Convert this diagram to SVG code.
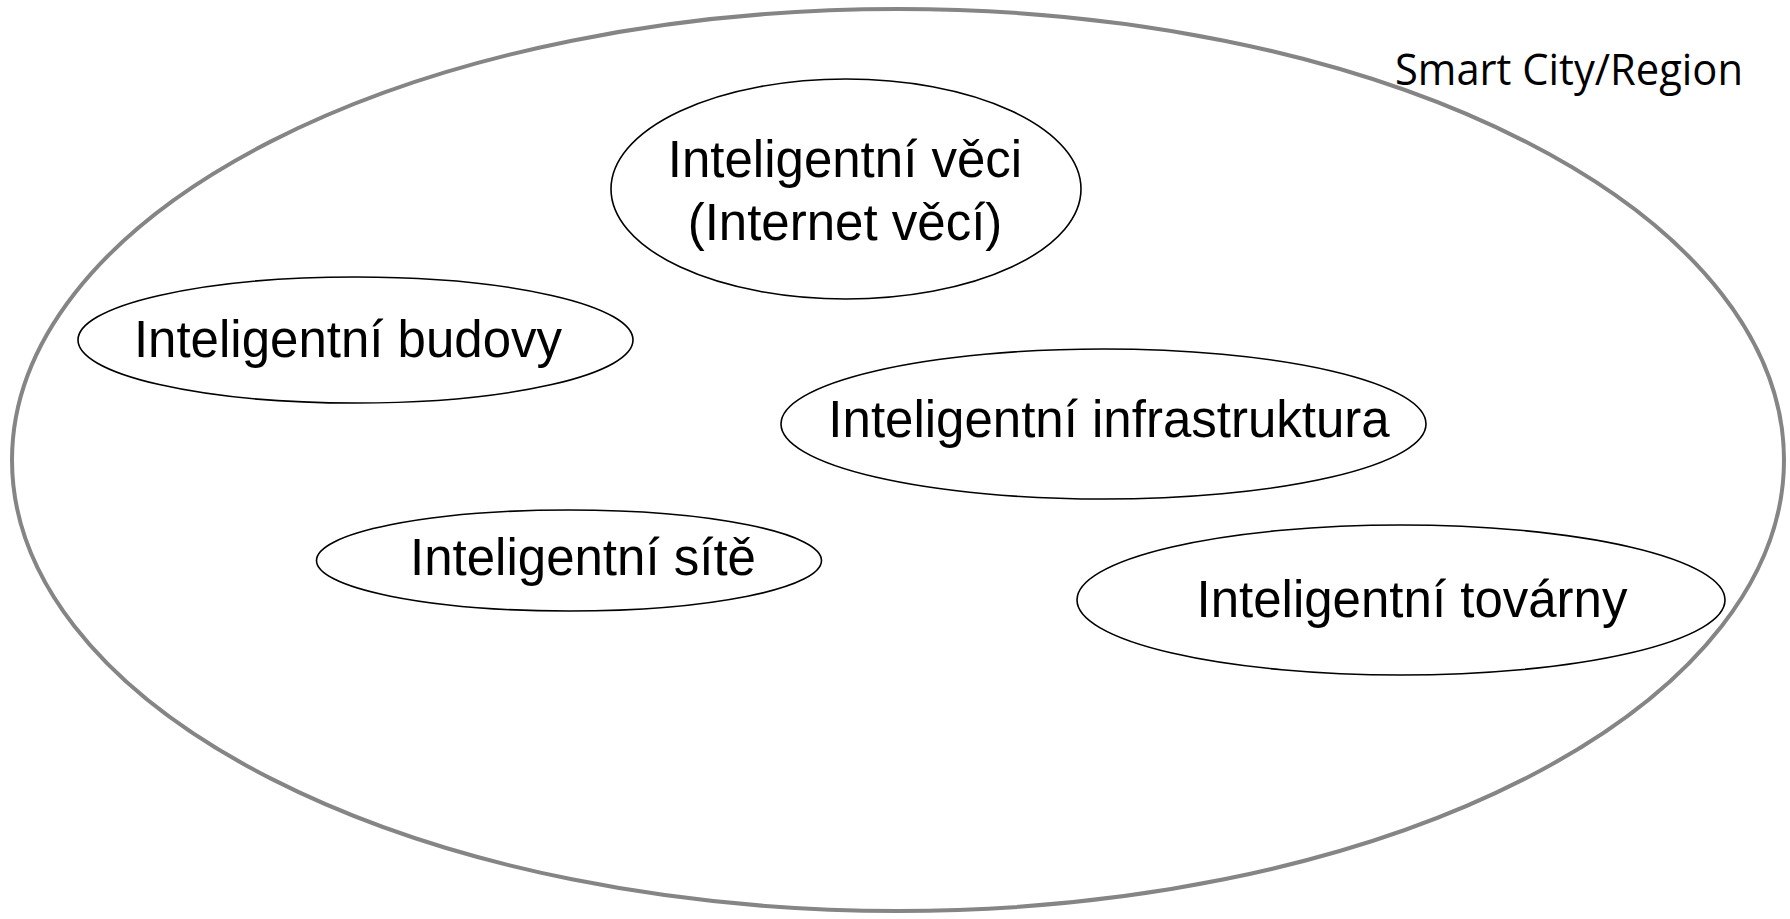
<svg xmlns="http://www.w3.org/2000/svg" width="1790" height="919" viewBox="0 0 1790 919">
<style>
.bg{fill:#ffffff}
.outer{fill:none;stroke:#858585;stroke-width:4}
.node{fill:#ffffff;stroke:#000000;stroke-width:1.6}
.lbl{font-family:"Liberation Sans",Arial,sans-serif;font-size:51px;fill:#000000;text-anchor:middle}
.title{font-family:"Open Sans","Liberation Sans",sans-serif;font-size:43px;fill:#000000}
</style>
<rect class="bg" x="0" y="0" width="1790" height="919"/>
<g id="smart-city">
<ellipse class="outer" cx="898" cy="460" rx="886" ry="451"/>
<text class="title" x="1395" y="85" textLength="348" lengthAdjust="spacingAndGlyphs">Smart City/Region</text>
</g>
<g id="connectors"></g>
<g id="node-veci">
<ellipse class="node" cx="846" cy="189" rx="235" ry="110"/>
<text class="lbl" x="845" y="177">Inteligentní věci</text>
<text class="lbl" x="845" y="240">(Internet věcí)</text>
</g>
<g id="node-budovy">
<ellipse class="node" cx="355.5" cy="340" rx="277.5" ry="63"/>
<text class="lbl" x="348" y="357">Inteligentní budovy</text>
</g>
<g id="node-infrastruktura">
<ellipse class="node" cx="1103.5" cy="424" rx="322.5" ry="75"/>
<text class="lbl" x="1109" y="437">Inteligentní infrastruktura</text>
</g>
<g id="node-site">
<ellipse class="node" cx="569" cy="560.5" rx="252.5" ry="50.5"/>
<text class="lbl" x="583" y="575">Inteligentní sítě</text>
</g>
<g id="node-tovarny">
<ellipse class="node" cx="1401" cy="600" rx="324" ry="75"/>
<text class="lbl" x="1412" y="617">Inteligentní továrny</text>
</g>
</svg>
